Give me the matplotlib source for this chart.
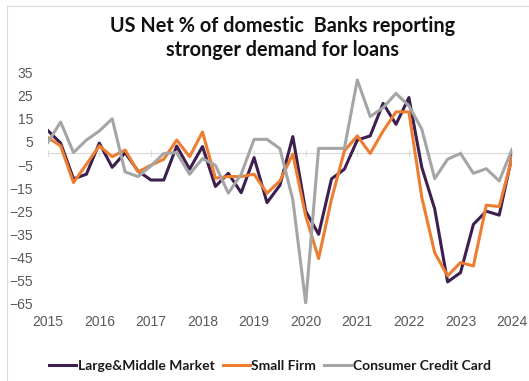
import matplotlib.pyplot as plt
from matplotlib.lines import Line2D
import numpy as np

# Quarterly survey readings, 2015Q1 .. 2024Q1
years = ['2015', '2016', '2017', '2018', '2019', '2020', '2021', '2022', '2023', '2024']

large_middle = [10, 4.5, -11, -9, 4.5, -6, 0.3, -7.6, -11.5, -11.5, 3.2, -6.8, 3,
                -14.3, -8.6, -17, -1.8, -21.3, -13.8, 7.3, -25, -35, -11, -6.8,
                5.8, 7.6, 21.7, 12.6, 24.2, -6, -24, -55.6, -51.6, -30.7, -25,
                -26.7, -1]
small_firm = [6.9, 3.3, -12.6, -4.7, 3.3, -1.4, 1.5, -8, -5.1, -2.5, 5.8, -1.4, 9.3,
              -10.7, -10, -10, -9, -17.2, -11.9, -0.3, -27, -45.5, -19.8, 1.1,
              7.6, 0, 9.7, 18, 18, -19, -43, -53, -47.2, -48.7, -22.4, -23, -1.8]
credit_card = [4.7, 13.6, 0.4, 5.8, 9.7, 15, -8, -10, -5.4, 0, 0.4, -9, -2.2,
               -5.1, -17.2, -9, 6.1, 6.1, 2.1, -20, -64.8, 2.2, 2.2, 2.2, 31.8,
               16, 19.8, 26, 20.6, 10.5, -10.9, -2.5, 0, -8.6, -6.6, -11.9, 1.8]

series_names = ['Large&Middle Market', 'Small Firm', 'Consumer Credit Card']
colors = ['#3d1f4f', '#ed7d31', '#a5a5a5']

W, H = 529, 381
fig = plt.figure(figsize=(W / 100, H / 100), dpi=100)

# plot area in pixel terms
left, right, top, bottom = 47.7, 512.1, 72.6, 303.6
ax = fig.add_axes([left / W, 1 - bottom / H, (right - left) / W, (bottom - top) / H])

q = np.arange(len(large_middle))
for vals, name, c in zip([large_middle, small_firm, credit_card], series_names, colors):
    ax.plot(q, vals, color=c, lw=2.2, label=name, solid_joinstyle='round')

ax.set_xlim(0, len(q) - 1)
ax.set_ylim(-65, 35)
for s in ax.spines.values():
    s.set_visible(False)

ax.set_yticks(np.arange(-65, 36, 10))
ax.set_xticks(np.arange(0, len(q), 4))
ax.set_xticklabels(years)
ax.tick_params(axis='both', length=0, labelsize=10, labelcolor='#595959')
ax.tick_params(axis='y', pad=10.5)
ax.tick_params(axis='x', pad=8)
for lab in ax.get_xticklabels() + ax.get_yticklabels():
    lab.set_fontfamily('Liberation Sans')

# category axis line crossing at zero, with small year ticks
ax.axhline(0, color='#d9d9d9', lw=0.8, zorder=0)
zx = ax.secondary_xaxis(65 / 100)
for s in zx.spines.values():
    s.set_visible(False)
zx.set_xticks(np.arange(0, len(q), 4))
zx.tick_params(axis='x', direction='inout', length=4, color='#d9d9d9',
               labelbottom=False, labeltop=False)

fig.text(283 / W, 1 - 38 / H, 'US Net % of domestic  Banks reporting\nstronger demand for loans',
         ha='center', va='center', fontsize=14.3, fontweight='bold', family='Lato',
         color='#111111', linespacing=1.2)

leg = fig.legend(loc='center', bbox_to_anchor=(270 / W, 1 - 366 / H), ncol=3, frameon=False,
                 handlelength=1.95, handletextpad=0.1, columnspacing=0.6,
                 prop={'family': 'Lato', 'weight': 'bold', 'size': 10})
for t in leg.get_texts():
    t.set_color('#1a1a1a')

# chart frame edges
fig.add_artist(Line2D([7 / W, 7 / W], [0, 1 - 6 / H], color='#d9d9d9', lw=0.8))
fig.add_artist(Line2D([7 / W, 1], [1 - 6 / H, 1 - 6 / H], color='#d9d9d9', lw=0.8))

fig.savefig('out.png', dpi=100)
